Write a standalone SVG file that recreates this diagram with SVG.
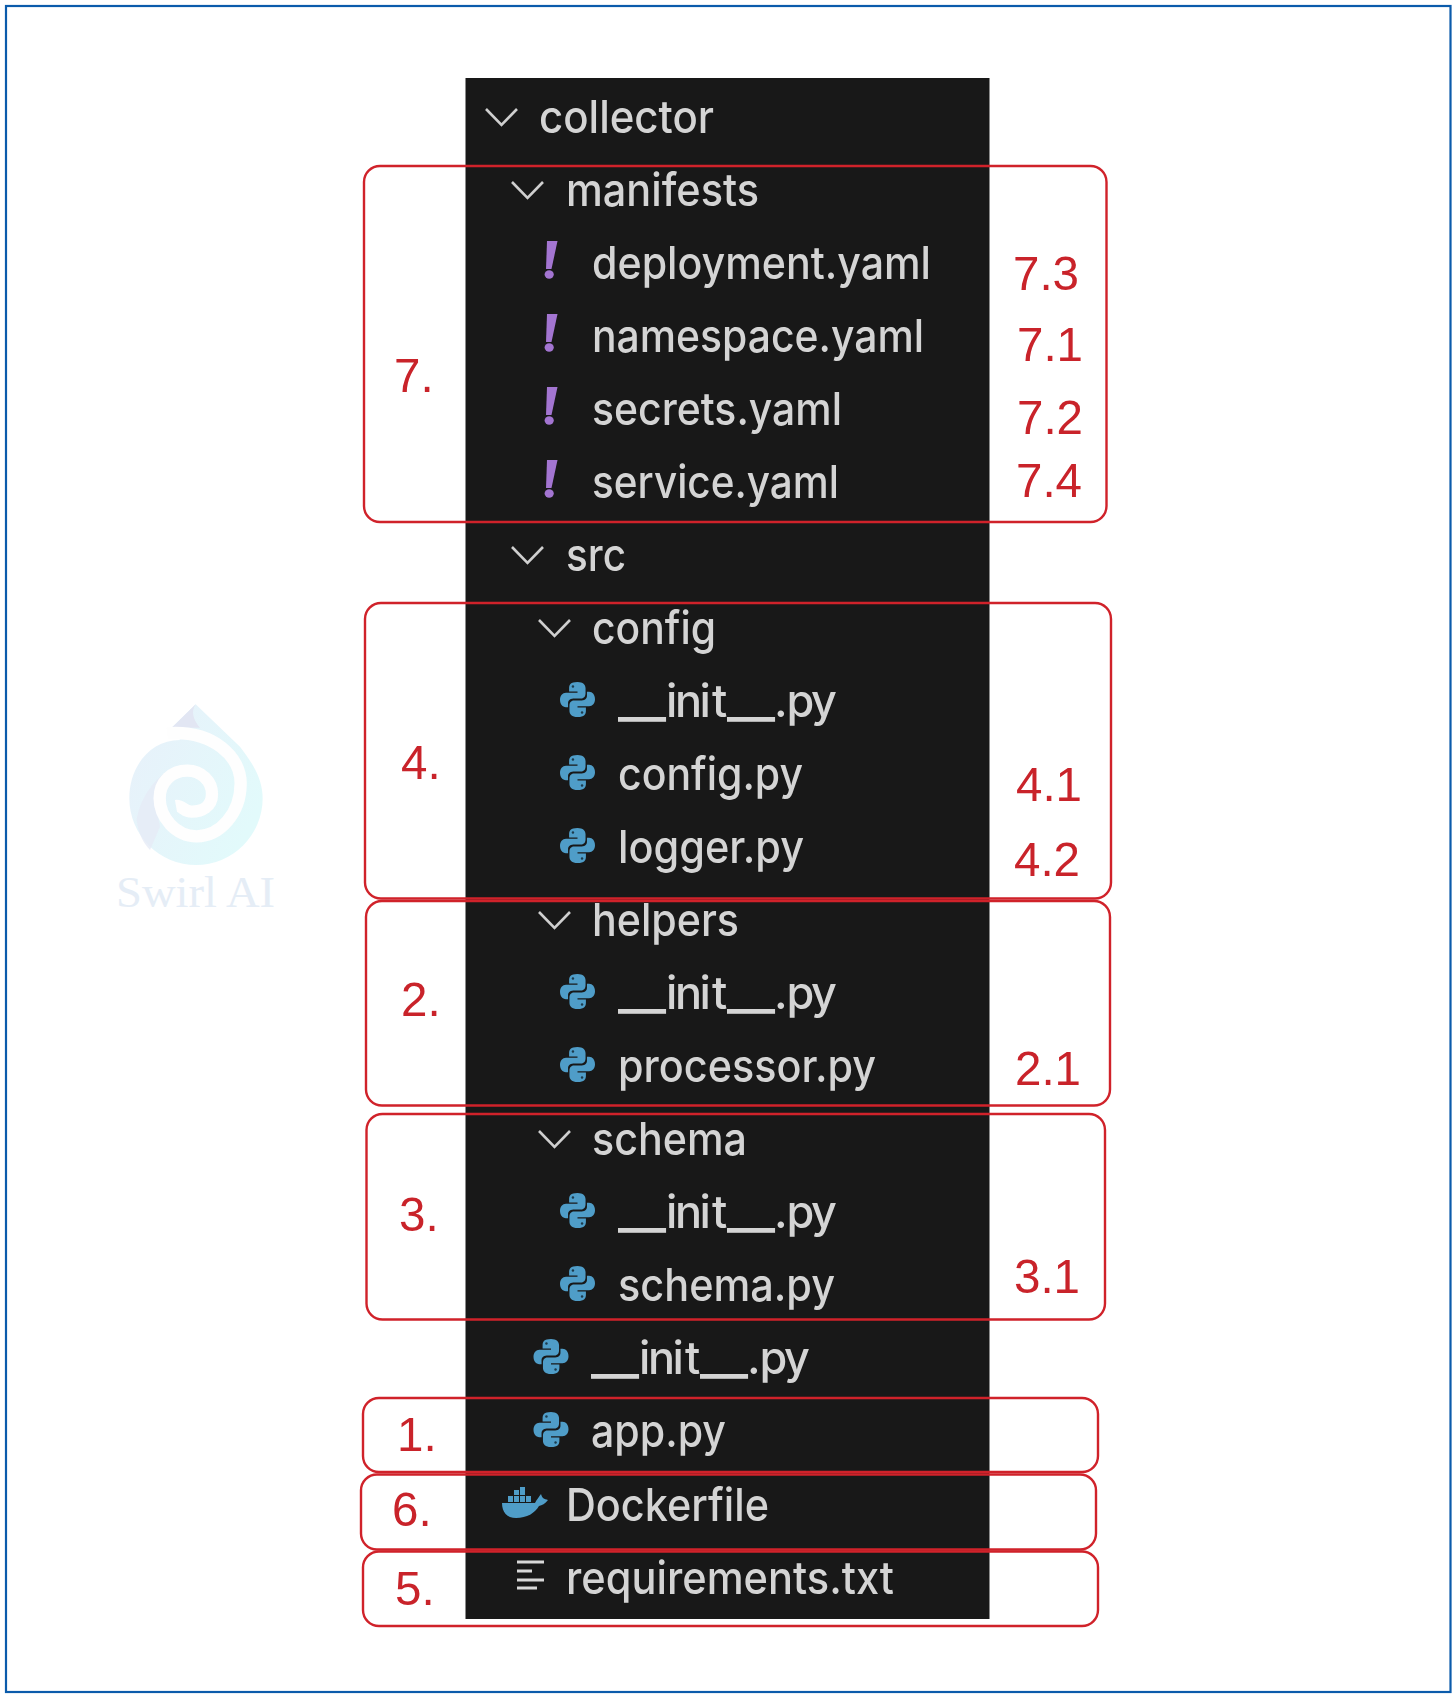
<svg xmlns="http://www.w3.org/2000/svg" width="1456" height="1698" viewBox="0 0 1456 1698">
<style>
.t{font-family:Inter,"Liberation Sans",sans-serif;font-size:45px;font-weight:500;fill:#d4d4d4}
.u{font-size:52px}
.r{font-family:"Liberation Sans",Arial,sans-serif;font-size:47.500px;fill:#c9232a}
.b{fill:none;stroke:#d0222a;stroke-width:2.400}
.c{fill:none;stroke:#cfcfcf;stroke-width:2.600}
.l{stroke:#d8d8d8;stroke-width:3}
</style>
<defs>
<filter id="soft" x="-5%" y="-5%" width="110%" height="110%"><feGaussianBlur stdDeviation="0.65"/></filter>
<linearGradient id="sw" x1="0" y1="0" x2="1" y2="0.6"><stop offset="0" stop-color="#e8f0fa"/><stop offset="1" stop-color="#e2fafb"/></linearGradient>
<symbol id="py" viewBox="0 0 100 100" overflow="visible">
<path id="snake" fill="#4f9dc8" d="M50 0C30 0 26 8 26 18V27H50V31H17C7 31 0 40 0 51C0 63 7 72 17 72H23V60C23 51 31 47 42 47H60C69 47 73 40 73 32V18C73 8 66 0 50 0Z"/>
<path fill="#4f9dc8" transform="rotate(180 50 50)" d="M50 0C30 0 26 8 26 18V27H50V31H17C7 31 0 40 0 51C0 63 7 72 17 72H23V60C23 51 31 47 42 47H60C69 47 73 40 73 32V18C73 8 66 0 50 0Z"/>
<circle cx="37" cy="13" r="3.500" fill="#1b3a4c"/><circle cx="63" cy="87" r="3.500" fill="#1b3a4c"/>
</symbol>
<g id="ex"><path fill="#a374d1" d="M547 -36H557.500L551.500 -8H546Z"/><ellipse cx="549.200" cy="-2.500" rx="4.600" ry="4.200" fill="#a374d1"/></g>
<path id="ch" class="c" d="M0 0L15.500 16L31 0"/>
</defs>

<g id="frame"><rect x="6" y="6" width="1444.500" height="1686" fill="#fff" stroke="#0b5bab" stroke-width="2.200"/></g>

<g id="watermark">
<g transform="translate(80 670) scale(.3333)">
<path fill="url(#sw)" d="M347 103L275 173L300 210C210 210 148 290 148 385A200 200 0 0 0 548 385C548 320 510 270 480 230Z"/>
<path fill="#e2e6f3" d="M347 103L275 173H360C340 150 332 125 347 103Z"/>
<path fill="#e6ebf6" opacity=".8" d="M170 450C180 380 230 320 270 300L230 420L240 470L210 540C190 520 175 490 170 450Z"/>
<path fill="none" stroke="#fefefe" stroke-width="37" d="M262 190C400 180 482 260 482 340C482 430 420 499 350 499C285 499 239 440 239 385C239 335 275 302 322 302C365 302 396 335 396 372C396 410 365 425 335 425C312 425 305 405 288 408"/>
</g>
<text x="116" y="907" font-family="'Liberation Serif',serif" font-size="44" fill="#e5edf6" textLength="159" lengthAdjust="spacingAndGlyphs">Swirl AI</text>
</g>

<g id="panel"><rect x="465.500" y="78" width="524" height="1541" fill="#181818"/></g>

<g id="tree" filter="url(#soft)">
<g id="collector"><use href="#ch" x="486" y="109"/><text class="t" x="539" y="133" textLength="175" lengthAdjust="spacingAndGlyphs">collector</text></g>
<g id="manifests"><use href="#ch" x="512" y="182"/><text class="t" x="566" y="206" textLength="193" lengthAdjust="spacingAndGlyphs">manifests</text></g>
<g id="deployment"><use href="#ex" y="277"/><text class="t" x="592" y="279" textLength="339" lengthAdjust="spacingAndGlyphs">deployment.yaml</text></g>
<g id="namespace"><use href="#ex" y="350"/><text class="t" x="592" y="352" textLength="332" lengthAdjust="spacingAndGlyphs">namespace.yaml</text></g>
<g id="secrets"><use href="#ex" y="423"/><text class="t" x="592" y="425" textLength="250" lengthAdjust="spacingAndGlyphs">secrets.yaml</text></g>
<g id="service"><use href="#ex" y="496"/><text class="t" x="592" y="498" textLength="247" lengthAdjust="spacingAndGlyphs">service.yaml</text></g>
<g id="src"><use href="#ch" x="512" y="547"/><text class="t" x="566" y="571" textLength="60" lengthAdjust="spacingAndGlyphs">src</text></g>
<g id="config"><use href="#ch" x="539" y="620"/><text class="t" x="592" y="644" textLength="124" lengthAdjust="spacingAndGlyphs">config</text></g>
<g id="config-init"><use href="#py" x="560" y="682" width="35" height="35"/><text class="t" y="717" x="618 642 666 675 699.500 712 727 751 774 786.500 811"><tspan class="u">__</tspan>init<tspan class="u">__</tspan>.py</text></g>
<g id="config-py"><use href="#py" x="560" y="755" width="35" height="35"/><text class="t" x="618" y="790" textLength="185" lengthAdjust="spacingAndGlyphs">config.py</text></g>
<g id="logger"><use href="#py" x="560" y="828" width="35" height="35"/><text class="t" x="618" y="863" textLength="186" lengthAdjust="spacingAndGlyphs">logger.py</text></g>
<g id="helpers"><use href="#ch" x="539" y="912"/><text class="t" x="592" y="936" textLength="147" lengthAdjust="spacingAndGlyphs">helpers</text></g>
<g id="helpers-init"><use href="#py" x="560" y="974" width="35" height="35"/><text class="t" y="1009" x="618 642 666 675 699.500 712 727 751 774 786.500 811"><tspan class="u">__</tspan>init<tspan class="u">__</tspan>.py</text></g>
<g id="processor"><use href="#py" x="560" y="1047" width="35" height="35"/><text class="t" x="618" y="1082" textLength="258" lengthAdjust="spacingAndGlyphs">processor.py</text></g>
<g id="schema-dir"><use href="#ch" x="539" y="1131"/><text class="t" x="592" y="1155" textLength="155" lengthAdjust="spacingAndGlyphs">schema</text></g>
<g id="schema-init"><use href="#py" x="560" y="1193" width="35" height="35"/><text class="t" y="1228" x="618 642 666 675 699.500 712 727 751 774 786.500 811"><tspan class="u">__</tspan>init<tspan class="u">__</tspan>.py</text></g>
<g id="schema-py"><use href="#py" x="560" y="1266" width="35" height="35"/><text class="t" x="618" y="1301" textLength="217" lengthAdjust="spacingAndGlyphs">schema.py</text></g>
<g id="src-init"><use href="#py" x="533.500" y="1339" width="35" height="35"/><text class="t" y="1374" x="591 615 639 648 672.500 685 700 724 747 759.500 784"><tspan class="u">__</tspan>init<tspan class="u">__</tspan>.py</text></g>
<g id="app"><use href="#py" x="533.500" y="1412" width="35" height="35"/><text class="t" x="591" y="1447" textLength="135" lengthAdjust="spacingAndGlyphs">app.py</text></g>
<g id="dockerfile">
<path fill="#4f9dc8" d="M502 1503H535C537 1499 539 1497 541 1494C542 1498 544 1499 548 1500C545 1504 542 1505 539 1506C535 1513 527 1518 516 1518C507 1518 502 1512 502 1503Z"/>
<path fill="#4f9dc8" d="M508 1496h5v6h-5zM514 1496h5v6h-5zM520 1496h5v6h-5zM526 1496h5v6h-5zM514 1490h5v5h-5zM520 1490h5v5h-5zM520 1487h5v3h-5z"/>
<text class="t" x="566" y="1521" textLength="203" lengthAdjust="spacingAndGlyphs">Dockerfile</text></g>
<g id="requirements">
<path class="l" d="M517 1562H544M517 1571H532M517 1580H544M517 1588H537"/>
<text class="t" x="566" y="1594" textLength="328" lengthAdjust="spacingAndGlyphs">requirements.txt</text></g>
</g>

<g id="connectors">
<rect class="b" x="364" y="166" width="742.500" height="356" rx="16"/>
<rect class="b" x="365" y="603" width="746" height="295.500" rx="16"/>
<rect class="b" x="366" y="901" width="744" height="204.500" rx="16"/>
<rect class="b" x="366.500" y="1114" width="738.500" height="205.500" rx="16"/>
<rect class="b" x="363" y="1398" width="735" height="74" rx="16"/>
<rect class="b" x="361" y="1474.500" width="735" height="75" rx="16"/>
<rect class="b" x="363" y="1551.500" width="735" height="74.500" rx="16"/>
</g>

<g id="labels">
<text class="r" x="394" y="392">7.</text>
<text class="r" x="1013" y="290">7.3</text>
<text class="r" x="1017" y="361">7.1</text>
<text class="r" x="1017" y="434">7.2</text>
<text class="r" x="1016" y="497">7.4</text>
<text class="r" x="401" y="779">4.</text>
<text class="r" x="1016" y="801">4.1</text>
<text class="r" x="1014" y="876">4.2</text>
<text class="r" x="401" y="1016">2.</text>
<text class="r" x="1015" y="1085">2.1</text>
<text class="r" x="399" y="1231">3.</text>
<text class="r" x="1014" y="1293">3.1</text>
<text class="r" x="397" y="1451">1.</text>
<text class="r" x="392" y="1526">6.</text>
<text class="r" x="395" y="1605">5.</text>
</g>
</svg>
